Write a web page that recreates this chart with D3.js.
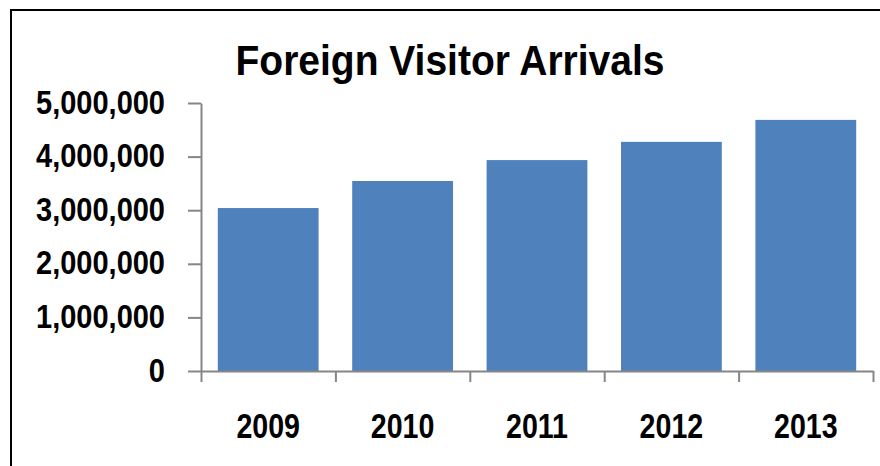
<!DOCTYPE html>
<html lang="en">
<head>
    <meta charset="UTF-8">
    <title>Foreign Visitor Arrivals</title>
    <script src="https://cdn.jsdelivr.net/npm/d3@7"></script>
    <style>
        body { margin: 0; background: #fff; }
        text { font-family: "Liberation Sans", Arial, sans-serif; font-weight: bold; }
    </style>
</head>
<body>
<script>
    var w = 880;
    var h = 466;

    var years = ["2009", "2010", "2011", "2012", "2013"];
    var arrivals = [3040000, 3545000, 3935000, 4275000, 4685000];
    var yTicks = [0, 1000000, 2000000, 3000000, 4000000, 5000000];
    var title = "Foreign Visitor Arrivals";

    // plot area (note: "top" is reserved on window, so use plot* names)
    var plotLeft = 201, plotRight = 873, plotTop = 103, plotBottom = 371;

    var svg = d3.select("body")
        .append("svg")
        .attr("width", w)
        .attr("height", h);

    // chart frame (only top and left edges show in the picture)
    svg.append("rect")
        .attr("x", 11).attr("y", 10)
        .attr("width", w + 20).attr("height", h + 20)
        .attr("fill", "none")
        .attr("stroke", "#000")
        .attr("stroke-width", 2);

    var x = d3.scaleBand()
        .domain(years)
        .range([plotLeft, plotRight])
        .paddingInner(0.25)
        .paddingOuter(0.125);

    var y = d3.scaleLinear()
        .domain([0, 5000000])
        .range([plotBottom, plotTop]);

    // bars
    svg.selectAll("rect.bar")
        .data(arrivals).enter()
        .append("rect")
        .attr("class", "bar")
        .attr("x", function (d, i) { return x(years[i]); })
        .attr("width", x.bandwidth())
        .attr("y", function (d) { return y(d); })
        .attr("height", function (d) { return y(0) - y(d); })
        .attr("fill", "#4f81bd");

    // y axis
    var yAxis = svg.append("g")
        .attr("transform", "translate(" + plotLeft + ",0)")
        .call(d3.axisLeft(y)
            .tickValues(yTicks)
            .tickFormat(d3.format(","))
            .tickSize(13)
            .tickSizeOuter(0)
            .tickPadding(23));

    // x axis: ticks at category boundaries
    var xb = d3.scaleLinear().domain([0, years.length]).range([plotLeft, plotRight]);
    var xAxis = svg.append("g")
        .attr("transform", "translate(0," + plotBottom + ")")
        .call(d3.axisBottom(xb)
            .tickValues(d3.range(years.length + 1))
            .tickFormat("")
            .tickSize(11)
            .tickSizeOuter(0));

    svg.selectAll(".domain, .tick line")
        .attr("stroke", "#868686")
        .attr("stroke-width", 2);

    yAxis.selectAll("text")
        .attr("fill", "#000")
        .attr("font-size", "29px")
        .attr("dy", "0.3em")
        .attr("transform", "scale(1,1.16)");

    // category labels
    svg.selectAll("text.year")
        .data(years).enter()
        .append("text")
        .attr("class", "year")
        .attr("text-anchor", "middle")
        .attr("font-size", "28.6px")
        .attr("transform", function (d) {
            return "translate(" + (x(d) + x.bandwidth() / 2) + ",438) scale(1,1.2)";
        })
        .text(function (d) { return d; });

    // title
    svg.append("text")
        .attr("text-anchor", "middle")
        .attr("font-size", "39px")
        .attr("transform", "translate(450,75) scale(1,1.08)")
        .text(title);
</script>
</body>
</html>
